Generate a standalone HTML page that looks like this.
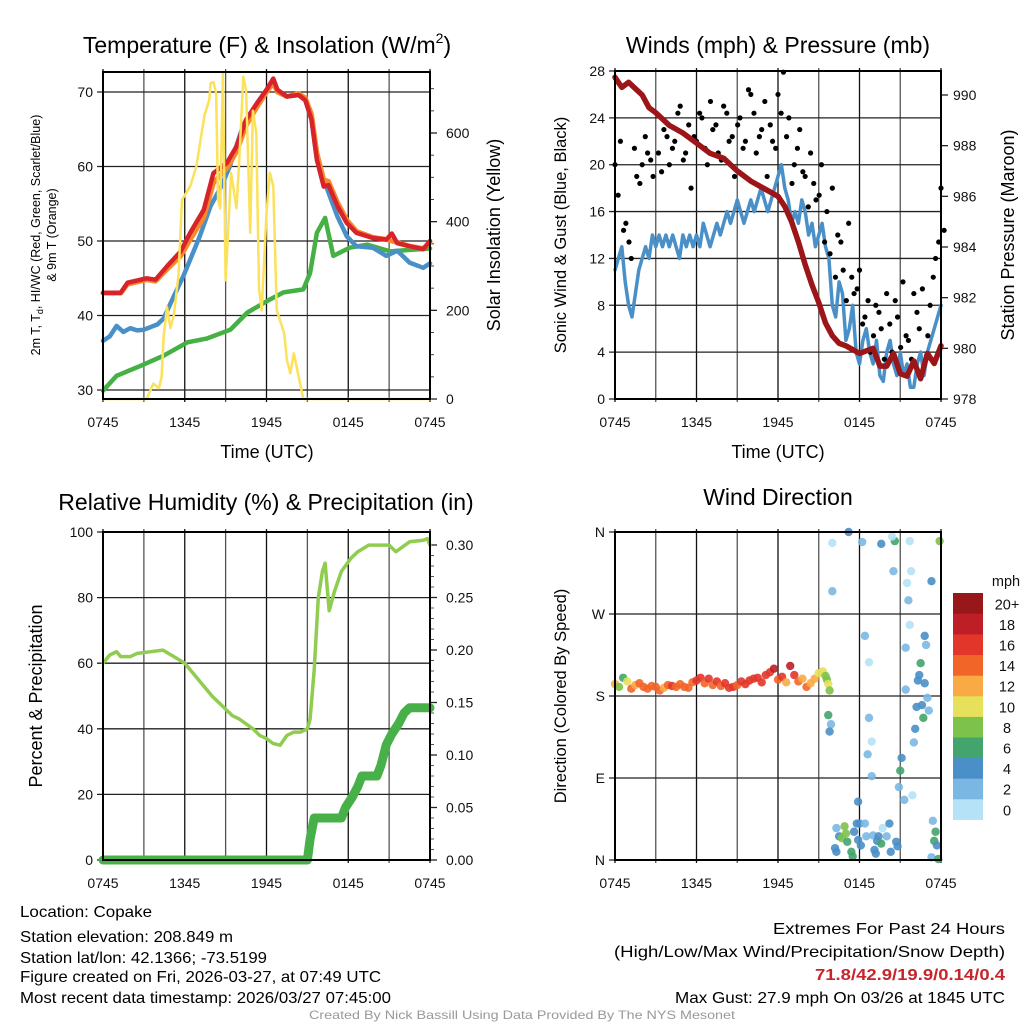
<!DOCTYPE html>
<html><head><meta charset="utf-8"><style>
html,body{margin:0;padding:0;background:#fff;}
svg{display:block;font-family:"Liberation Sans",sans-serif;}
.n{font-family:"Liberation Sans Narrow","Liberation Sans",sans-serif;}
</style></head><body>
<svg id="c" width="1024" height="1024" viewBox="0 0 1024 1024">
<rect width="1024" height="1024" fill="#fff"/>
</svg>
<script>
// ===== Panel 1: temperature =====
const tRed=[0,1.3,1.8,3.2,3.85,4.7,5.7,6.4,7.4,8.1,9.1,9.8,10.5,11.3,12.0,12.5,12.8,13.5,14.35,14.85,15.3,15.7,16.2,16.55,17.2,17.9,18.6,19.8,20.8,21.2,21.6,22.5,23.5,24];
const vRed=[43.05,43.05,44.4,45,44.8,46.6,48.6,51.1,54.2,59.1,60.5,62.7,66.3,68.5,70.3,71.8,70.3,69.4,69.6,68.9,66.3,60.9,57.3,57.5,54.7,52.4,51.1,50.4,50.2,51.0,49.7,49.3,48.9,50.0];
const tOrg=[0,1.3,1.8,3.2,3.85,4.7,5.7,6.4,7.4,8.1,9.1,9.8,10.5,11.3,12.0,12.5,12.8,13.5,14.35,14.85,15.3,15.7,16.2,16.55,17.2,17.9,18.6,19.8,20.8,21.6,22.5,23.5,24];
const vOrg=[43.0,43.0,44.2,44.8,44.6,46.2,48.0,50.2,53.2,57.8,59.8,62.0,65.5,68.0,70.0,71.2,70.0,69.4,69.8,69.2,67.0,61.8,58.2,58.0,55.2,52.8,51.3,50.5,50.2,49.8,49.3,49.0,49.8];
const tBlue=[0,0.5,1.0,1.5,2.0,2.5,3.0,4.0,4.45,5.2,5.9,6.4,7.1,7.9,8.7,9.3,10.3,11.3,12.0,12.5,12.8,13.5,14.35,14.85,15.3,15.7,16.55,17.2,17.9,18.6,19.8,20.8,21.6,22.5,23.5,24];
const vBlue=[36.6,37.2,38.6,37.8,38.3,38.0,38.1,38.8,39.6,42.6,45.3,47.5,50.6,54.7,57.4,60.0,65.6,68.5,70.3,71.6,70.3,69.4,69.6,68.9,66.3,60.9,56.5,53.3,50.6,49.3,49.1,48.0,48.7,47.1,46.4,47.0];
const tGrn=[0,1.0,2.7,4.45,6.2,7.6,9.35,10.6,12.3,13.25,14.7,15.2,15.7,16.3,16.9,18.1,19.4,21.1,22.5,24];
const vGrn=[29.9,31.9,33.2,34.6,36.4,36.9,38.1,40.4,42.2,43.1,43.5,45.7,51.1,53.1,48.0,49.1,49.5,48.6,48.8,49.0];
const tSol=[0,3.2,3.7,4.1,4.3,4.45,4.7,4.95,5.2,5.55,5.8,6.4,6.85,7.2,7.45,7.8,7.9,8.1,8.3,8.45,8.6,8.8,9.0,9.4,9.8,10.0,10.3,10.5,10.8,11.0,11.25,11.45,11.65,12.0,12.25,12.5,12.75,13.3,13.5,13.75,14.0,14.7,24];
const vSol=[0,0,35,24,50,140,208,160,190,283,449,480,524,592,640,675,712,715,690,449,430,735,268,510,430,540,727,697,375,650,600,250,200,420,510,480,201,148,88,58,103,0,0];
const p1LeftTicks=[30,40,50,60,70];
const p1RightTicks=[0,200,400,600];
const xTickLabels=["0745","1345","1945","0145","0745"];
const xTickHours=[0,6,12,18,24];

// ===== Panel 2: winds & pressure (wind sampled every 15 min) =====
const vWind=[11,12,13,10,8,7,9,11,
12,13,12,14,13,14,13,14,
13,14,13,12,14,13,14,13,
14,13,15,14,13,14,15,14,
15,16,15,16,17,16,15,16,
17,16,17,18,17,16,17,18,
19,20,18,17,15,16,15,17,
16,14,15,13,14,15,13,12,
8,7,10,9,5,6,8,4,
3,5,6,4,3,5,2,1.5,
4,5,3,2,4,2,3,1,
1,3,4,2,4,5,6,7,8];
const vGust=[20,22,15,12,19,20,21,19,21,23,20,22,25,21,18,22,24,20,23,21,25,22,19,24,22,26,21,23,19,22,26,27.9,24,20,23,19,21,17,20,16,18,14,11,15,9,11,7,4,8,6,9,4,7,10,5,9,6,3,8,12,18];
const vGust2=[17,14,13,21,18,22,20,24,19,22,21,24,20,23,22,24,21,25,23,20,24,22,23,21,26,24,22,25,23,21,24,22,18,21,19,16,18,17,13,12,10,13,8,10,9,6,8,5,7,3,6,8,4,5,3,7,9,5,10,13,14];
const tPres=[0,0.5,1,2,2.5,3,4,5,6,7,8,9,10,11,12,12.5,13,13.5,14,14.5,15,15.5,16,16.5,17,18,19,19.5,20,20.5,21,21.5,22,22.5,23,23.5,24];
const vPres=[990.7,990.3,990.5,990,989.5,989.3,988.8,988.5,988.1,987.7,987.5,987,986.6,986.3,986,985.6,985,984.2,983.3,982.5,981.8,981,980.5,980.2,980.1,979.8,980,979.3,979.3,979.8,979,978.9,979.5,978.8,979.8,979.4,980.1];
const p2LeftTicks=[0,4,8,12,16,20,24,28];
const p2RightTicks=[978,980,982,984,986,988,990];

// ===== Panel 3: RH & precip =====
const tRH=[0,0.5,1,1.3,2,2.5,3.5,4.4,5.2,6,7,8,9,9.5,10,11,11.5,12,12.5,13,13.5,14,14.5,15,15.2,15.5,15.8,16.1,16.3,16.6,17,17.5,18.2,18.7,19.5,21,21.5,22.5,23.5,23.8,24];
const vRH=[60,62.5,63.5,62,62,63,63.5,64,62,60,55,50,46,44,43,40,38,37,35.5,35,38,39,39,40,43,58,80,88,90.5,76,82,88,92,94,96,96,94,97,97.5,98,96];
const tPcp=[0,15,15.2,15.5,17.5,17.8,18.3,18.7,19,20.1,20.4,20.8,21.2,21.7,22.1,22.5,24];
const vPcp=[0,0,0.02,0.04,0.04,0.05,0.06,0.07,0.08,0.08,0.09,0.11,0.12,0.13,0.14,0.145,0.145];
const p3LeftTicks=[0,20,40,60,80,100];
const p3RightTicks=[0,0.05,0.10,0.15,0.20,0.25,0.30];
const p3RightLabels=["0.00","0.05","0.10","0.15","0.20","0.25","0.30"];

// ===== Panel 4: wind direction =====
const tDir=[0,0.3,0.6,0.9,1.2,1.5,1.8,2.1,2.4,2.7,3,3.3,3.6,3.9,4.2,4.5,4.8,5.1,5.4,5.7,6,6.3,6.6,6.9,7.2,7.5,7.8,8.1,8.4,8.7,9,9.3,9.6,9.9,10.2,10.5,10.8,11.1,11.4,11.7,12,12.3,12.6,12.9,13.2,13.5,13.8,14.1,14.4,14.7,15,15.3,15.5,15.6,15.7,15.8,
16.0,17.2,18.2,19.6,20.6,20.4,21.7,23.9,16,20.5,21.8,21.5,23.3,21.6,21.7,18.4,22.8,21.4,22.9,18.7,22.5,22.4,22.3,22.8,21.4,23,22.2,22.6,23.1,22.7,15.7,15.9,15.8,18.7,22.1,18.9,22,18.6,21.1,21,18.9,20.9,21.9,21.3,17.9,23.4,23.6,23.5,23.7,23.3,23.8,
16.3,16.5,16.9,16.7,17.1,16.2,16.3,17.4,17.5,17.8,18.0,18.4,17.9,18.1,18.5,19.0,19.4,19.7,20.0,19.3,19.6,19.1,19.2,20.2,20.3,20.7,20.8,17.6,17.0];
const vDir=[193,190,200,196,188,192,194,190,188,191,190,186,189,192,191,190,193,190,189,195,197,200,194,199,192,196,191,194,189,190,192,196,193,197,199,200,195,203,206,210,198,201,195,213,203,196,199,190,194,199,205,207,202,198,193,186,
348,360,349,347,350,355,350,350,295,317,317,304,306,285,258,246,246,233,236,217,216,203,197,194,187,178,168,170,164,156,159,149,141,156,144,130,129,116,112,98,92,80,71,66,64,43,31,21,16,3,1,
35,26,37,24,20,13,9,9,4,40,40,40,22,16,26,27,26,35,26,21,18,11,7,40,9,20,15,31,29];
const vSpd=[13,9,7,11,15,13,15,14,15,15,14,15,13,15,16,15,14,15,15,15,17,17,15,16,15,17,15,16,17,17,15,16,17,17,16,17,17,16,17,19,15,17,13,19,17,15,13,15,13,13,11,11,9,9,11,9,
1,5,3,5,7,1,1,9,3,3,1,1,5,3,1,3,5,3,3,1,7,5,5,5,3,3,5,5,3,7,7,3,5,3,5,1,3,3,5,7,3,3,1,3,5,3,7,7,5,3,7,
3,5,9,9,7,5,5,7,7,5,5,3,5,5,3,3,5,1,3,5,7,5,5,5,5,5,5,5,9];
const spdColors=["#b5e2f7","#7ab8e3","#4a8fc7","#43a46e","#7dc24b","#e7e05a","#f9aa45","#f26528","#e2362a","#be1e26","#981819"];
const spdLabels=["0","2","4","6","8","10","12","14","16","18","20+"];
const dirTicks=[0,90,180,270,360];
const dirLabels=["N","E","S","W","N"];

const NS="http://www.w3.org/2000/svg";
const svg=document.getElementById('c');
function mk(tag,attrs,parent,txt){const e=document.createElementNS(NS,tag);for(const k in attrs)e.setAttribute(k,attrs[k]);if(txt!==undefined)e.textContent=txt;(parent||svg).appendChild(e);return e;}
function lin(d0,d1,r0,r1){return v=>r0+(v-d0)/(d1-d0)*(r1-r0);}

function frame(P,name){
  const g=mk('g',{});
  
  
  P.g=g;
  for(let h=0;h<=24;h+=3){const x=P.x(h);const gl=mk('line',{x1:x,x2:x,y1:P.top-3,y2:P.bot+3,stroke:(h%6===0)?'#111':'#555','stroke-width':1.3},g);}
  xTickHours.forEach((h,i)=>{const t=mk('text',{x:P.x(h),y:P.bot+28,'text-anchor':'middle','font-size':14,fill:'#111'},g,xTickLabels[i]);});
  return g;
}
function box(P){const r=mk('rect',{x:P.left,y:P.top,width:P.right-P.left,height:P.bot-P.top,fill:'none',stroke:'#000','stroke-width':2},P.g);}
function line(P,xs,ys,yf,color,w,name){let d='';xs.forEach((t,i)=>{d+=(i?'L':'M')+P.x(t).toFixed(1)+','+yf(ys[i]).toFixed(1);});const p=mk('path',{d:d,fill:'none',stroke:color,'stroke-width':w,'stroke-linejoin':'round','stroke-linecap':'round'},P.g);}
function hgrid(P,vals,yf,labels,side,dx){vals.forEach((v,i)=>{const y=yf(v);if(side==='left'){const l=mk('line',{x1:P.left-6,x2:P.right,y1:y,y2:y,stroke:'#222','stroke-width':1.3},P.g);}
  const t=mk('text',{x:side==='left'?P.left-10:P.right+(dx||12),y:y+5,'text-anchor':side==='left'?'end':'start','font-size':14,fill:'#111'},P.g,labels?labels[i]:String(v));
  if(side==='right'){const l=mk('line',{x1:P.right,x2:P.right+7,y1:y,y2:y,stroke:'#222','stroke-width':1.3},P.g);}});}
function title(x,y,txt,name,size){const t=mk('text',{x:x,y:y,'text-anchor':'middle','font-size':size||23,fill:'#000'},svg);t.innerHTML=txt;return t;}
function vlabel(x,y,txt,name,size){const t=mk('text',{x:0,y:0,'text-anchor':'middle','font-size':size||18,fill:'#000',transform:`translate(${x},${y}) rotate(-90)`},svg);t.innerHTML=txt;return t;}

// ---------- Panel 1 ----------
const P1={left:103,right:430,top:72,bot:399};P1.x=lin(0,24,P1.left,P1.right);
const y1=lin(30,70,390,92), y1r=lin(0,600,399,133);
frame(P1,'temperature-panel');
hgrid(P1,p1LeftTicks,y1,null,'left');
hgrid(P1,p1RightTicks,y1r,null,'right',16);
for(let v=50;v<=700;v+=50){if(v%200){const y=y1r(v);mk('line',{x1:P1.right,x2:P1.right+4,y1:y,y2:y,stroke:'#444'},P1.g);}}
line(P1,tGrn,vGrn,y1,'#45b044',4.5,'dewpoint-line');
line(P1,tBlue,vBlue,y1,'#4a90c8',4.5,'windchill-line');
line(P1,tOrg,vOrg,y1,'#f7892c',5,'temp-9m-line');
line(P1,tRed,vRed,y1,'#d8232a',4.5,'temp-2m-line');
line(P1,tSol,vSol,y1r,'#fce25a',2.5,'solar-line');
box(P1);
title(267,53,'Temperature (F) &amp; Insolation (W/m<tspan font-size="14" dy="-10">2</tspan><tspan dy="10">)</tspan>','temperature-title');
vlabel(40,235,'2m T, T<tspan font-size="9" dy="3">d</tspan><tspan dy="-3">, HI/WC (Red, Green, Scarlet/Blue)</tspan>','temperature-y-title',12.5);
vlabel(56,235,'&amp; 9m T (Orange)','temperature-y-title-2',12.5);
vlabel(500,235,'Solar Insolation (Yellow)','solar-y-title');
title(267,458,'Time (UTC)','time-x-title',18);

// ---------- Panel 2 ----------
const P2={left:615,right:941,top:71,bot:399};P2.x=lin(0,24,P2.left,P2.right);
const y2=lin(0,28,399,71), y2r=lin(978,990,399,95);
frame(P2,'winds-panel');
hgrid(P2,p2LeftTicks,y2,null,'left');
hgrid(P2,p2RightTicks,y2r,null,'right',12);
const tWind=vWind.map((v,i)=>i*0.25);
line(P2,tWind,vWind,y2,'#4a90c8',3.5,'sonic-wind-line');
const gg=mk('g',{},P2.g);
vGust.forEach((v,i)=>{const c=mk('circle',{cx:P2.x(i*0.4),cy:y2(v),r:2.6,fill:'#000'},gg);});
vGust2.forEach((v,i)=>{const c=mk('circle',{cx:P2.x(i*0.4+0.23),cy:y2(v+0.4),r:2.6,fill:'#000'},gg);});
line(P2,tPres,vPres,y2r,'#9b1519',5.5,'pressure-line');
box(P2);
title(778,53,'Winds (mph) &amp; Pressure (mb)','winds-title');
vlabel(566,235,'Sonic Wind &amp; Gust (Blue, Black)','wind-y-title',16.5);
vlabel(1014,235,'Station Pressure (Maroon)','pressure-y-title');
title(778,458,'Time (UTC)','time-x-title-2',18);

// ---------- Panel 3 ----------
const P3={left:103,right:430,top:532,bot:860};P3.x=lin(0,24,P3.left,P3.right);
const y3=lin(0,100,860,532), y3r=lin(0,0.30,860,545);
frame(P3,'humidity-panel');
hgrid(P3,p3LeftTicks,y3,null,'left');
hgrid(P3,p3RightTicks,y3r,p3RightLabels,'right',16);
for(let v=0.01;v<0.31;v+=0.01){if(Math.round(v*100)%5){const y=y3r(v);mk('line',{x1:P3.right,x2:P3.right+4,y1:y,y2:y,stroke:'#555'},P3.g);}}
line(P3,tPcp,vPcp,y3r,'#48b048',9,'precip-line');
line(P3,tRH,vRH,y3,'#8fcc50',3.5,'rh-line');
box(P3);
title(266,510,'Relative Humidity (%) &amp; Precipitation (in)','humidity-title');
vlabel(42,696,'Percent &amp; Precipitation','humidity-y-title');

// ---------- Panel 4 ----------
const P4={left:615,right:941,top:532,bot:860};P4.x=lin(0,24,P4.left,P4.right);
const y4=lin(0,360,860,532);
frame(P4,'direction-panel');
hgrid(P4,dirTicks,y4,dirLabels,'left');
const dg=mk('g',{},P4.g);
tDir.forEach((t,i)=>{const ci=Math.min(10,Math.floor(vSpd[i]/2));const c=mk('circle',{cx:P4.x(t),cy:y4(vDir[i]),r:4.2,fill:spdColors[ci],'fill-opacity':0.9},dg);});
box(P4);
title(778,505,'Wind Direction','direction-title');
vlabel(566,696,'Direction (Colored By Speed)','direction-y-title',16.5);
const cb=mk('g',{});
const cbTop=593,cbH=20.6;
spdColors.forEach((c,i)=>{const yy=cbTop+(10-i)*cbH;const r=mk('rect',{x:953,y:yy,width:30,height:cbH+0.3,fill:c},cb);
 const t=mk('text',{x:1007,y:yy+cbH/2+6,'text-anchor':'middle','font-size':14.5,fill:'#111'},cb,spdLabels[i]);});
const cu=mk('text',{x:1006,y:586,'text-anchor':'middle','font-size':14.5,fill:'#111'},cb,'mph');

// ---------- footer ----------
const leftLines=[["Location: Copake",917,132],["Station elevation: 208.849 m",942,213],["Station lat/lon: 42.1366; -73.5199",963,247],["Figure created on Fri, 2026-03-27, at 07:49 UTC",982,361],["Most recent data timestamp: 2026/03/27 07:45:00",1003,371]];
leftLines.forEach(l=>{const t=mk('text',{x:20,y:l[1],'font-size':16,fill:'#000','class':'n',textLength:l[2],lengthAdjust:'spacingAndGlyphs'},svg,l[0]);});
const rightLines=[["Extremes For Past 24 Hours",934,232,'#000','normal'],["(High/Low/Max Wind/Precipitation/Snow Depth)",957,391,'#000','normal'],["71.8/42.9/19.9/0.14/0.4",980,190,'#c8242b','bold'],["Max Gust: 27.9 mph On 03/26 at 1845 UTC",1003,330,'#000','normal']];
rightLines.forEach(l=>{const t=mk('text',{x:1005-l[2],y:l[1],'font-size':16,fill:l[3],'font-weight':l[4],'class':'n',textLength:l[2],lengthAdjust:'spacingAndGlyphs'},svg,l[0]);});
const cr=mk('text',{x:309,y:1019,'font-size':12,fill:'#999','class':'n',textLength:426,lengthAdjust:'spacingAndGlyphs'},svg,'Created By Nick Bassill Using Data Provided By The NYS Mesonet');

</script>
</body></html>
